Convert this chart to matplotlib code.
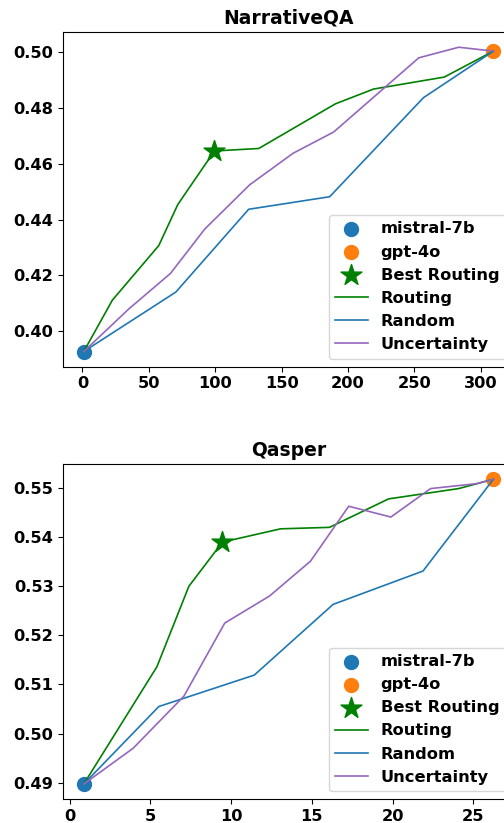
import matplotlib
matplotlib.use("Agg")
import matplotlib.pyplot as plt

plt.rcParams['font.family'] = ['DejaVu Sans']
plt.rcParams['font.weight'] = 'bold'
plt.rcParams['font.size'] = 11.7

# NarrativeQA
nqa_small = (1, 0.3927)
nqa_large = (309.5, 0.5004)
nqa_best = (99.4, 0.4646)
nqa_routing_x = [1, 22.5, 57.5, 71.8, 99.4, 132.8, 190.5, 219.2, 272.5, 309.5]
nqa_routing_y = [0.3927, 0.4111, 0.4307, 0.4454, 0.4646, 0.4655, 0.4815, 0.4868, 0.4911, 0.5004]
nqa_random_x = [1, 70.3, 125.2, 186.2, 256.8, 309.5]
nqa_random_y = [0.3927, 0.4140, 0.4437, 0.4482, 0.4837, 0.5004]
nqa_unc_x = [1, 35, 66.3, 92.1, 126, 158.7, 189.2, 253.3, 283.4, 309.5]
nqa_unc_y = [0.3927, 0.4080, 0.4207, 0.4366, 0.4525, 0.4638, 0.4714, 0.4980, 0.5018, 0.5004]

# Qasper
qas_small = (0.87, 0.4897)
qas_large = (26.24, 0.5518)
qas_best = (9.46, 0.5390)
qas_routing_x = [0.87, 5.40, 7.38, 9.46, 13.06, 16.09, 19.75, 24.09, 26.24]
qas_routing_y = [0.4897, 0.5136, 0.5300, 0.5390, 0.5417, 0.5420, 0.5478, 0.5499, 0.5518]
qas_random_x = [0.87, 5.52, 11.43, 16.31, 21.88, 26.24]
qas_random_y = [0.4897, 0.5055, 0.5119, 0.5263, 0.5331, 0.5518]
qas_unc_x = [0.87, 3.93, 7.07, 9.60, 12.37, 14.91, 17.28, 19.89, 22.35, 25.20, 26.24]
qas_unc_y = [0.4897, 0.4970, 0.5076, 0.5225, 0.5280, 0.5351, 0.5463, 0.5441, 0.5499, 0.5509, 0.5518]

fig = plt.figure(figsize=(5.04, 8.23), dpi=100)
ax1 = fig.add_axes([0.1256, 0.5544, 0.894, 0.4067])
ax2 = fig.add_axes([0.1256, 0.0288, 0.894, 0.4074])


def draw(ax, title, small, large, best, rx, ry, ux_, uy_, cx, cy):
    ax.scatter(small[0], small[1], s=100, color='tab:blue', label='mistral-7b')
    ax.scatter(large[0], large[1], s=100, color='tab:orange', label='gpt-4o')
    ax.scatter(best[0], best[1], s=250, marker='*', color='green', label='Best Routing', zorder=3)
    ax.plot(rx, ry, color='green', lw=1.2, label='Routing')
    ax.plot(ux_, uy_, color='tab:blue', lw=1.2, label='Random')
    ax.plot(cx, cy, color='tab:purple', lw=1.2, label='Uncertainty')
    ax.set_title(title, fontsize=13.5, fontweight='bold')
    ax.legend(loc='lower right', fontsize=11.7)


draw(ax1, 'NarrativeQA', nqa_small, nqa_large, nqa_best,
     nqa_routing_x, nqa_routing_y, nqa_random_x, nqa_random_y, nqa_unc_x, nqa_unc_y)
draw(ax2, 'Qasper', qas_small, qas_large, qas_best,
     qas_routing_x, qas_routing_y, qas_random_x, qas_random_y, qas_unc_x, qas_unc_y)

ax1.set_yticks([0.40, 0.42, 0.44, 0.46, 0.48, 0.50])
ax2.set_yticks([0.49, 0.50, 0.51, 0.52, 0.53, 0.54, 0.55])

fig.savefig('out.png', dpi=100)
